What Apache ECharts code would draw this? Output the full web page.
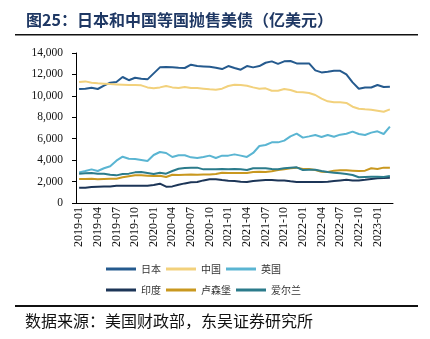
<!DOCTYPE html>
<html><head><meta charset="utf-8">
<script src="https://cdn.jsdelivr.net/npm/echarts@6/dist/echarts.min.js"></script>
<style>html,body{margin:0;padding:0;background:#fff}#c{width:430px;height:339px}</style>
</head><body><div id="c"></div>
<script>
// months 2019-01 .. 2023-03
const months = [];
for (let y = 2019; y <= 2023; y++) { for (let m = 1; m <= 12; m++) { if (y === 2023 && m > 3) break; months.push(y + '-' + String(m).padStart(2, '0')); } }
const yTicks = [0, 2000, 4000, 6000, 8000, 10000, 12000, 14000];

const japan = [10640,10670,10750,10640,10950,11230,11300,11760,11460,11690,11600,11540,12100,12660,12700,12660,12620,12600,12910,12780,12750,12710,12620,12500,12780,12600,12440,12780,12660,12780,13090,13220,12990,13220,13250,13030,13030,13030,12380,12190,12250,12340,12340,12000,11260,10670,10780,10780,11010,10820,10860];
const china = [11290,11350,11230,11170,11140,11100,11070,11040,11010,11010,10980,10790,10700,10790,10920,10790,10730,10830,10730,10730,10670,10610,10580,10670,10920,11040,11010,10950,10790,10670,10700,10480,10480,10640,10540,10360,10330,10270,10080,9740,9490,9400,9400,9340,8990,8800,8740,8710,8620,8520,8740];
const uk = [2860,2990,3140,2990,3240,3430,3950,4320,4130,4100,4010,3920,4480,4760,4670,4290,4450,4450,4260,4200,4290,4420,4200,4420,4420,4540,4420,4300,4670,5320,5410,5660,5660,5820,6220,6470,6100,6220,6350,6160,6350,6190,6380,6470,6660,6440,6350,6570,6690,6440,7120];
const india = [1430,1430,1490,1520,1550,1550,1620,1620,1620,1620,1620,1620,1680,1800,1520,1550,1710,1830,1930,1960,2110,2210,2210,2140,2080,2050,1990,1960,2050,2110,2140,2140,2110,2110,2020,1960,1960,1960,1960,1960,1990,2050,2110,2170,2110,2110,2170,2240,2300,2330,2360];
const luxembourg = [2240,2240,2270,2210,2240,2270,2270,2400,2490,2580,2580,2550,2520,2550,2430,2640,2610,2640,2670,2640,2670,2670,2700,2830,2800,2800,2800,2800,2890,2920,2890,2960,3080,3140,3240,3300,3170,3170,3080,2920,2890,3020,3050,3050,3020,2990,3020,3240,3170,3300,3300];
const ireland = [2740,2770,2800,2740,2740,2640,2580,2710,2740,2860,2890,2800,2710,2830,2740,2990,3200,3270,3300,3300,3140,3140,3140,3170,3140,3170,3140,3080,3240,3240,3240,3170,3140,3240,3300,3330,3080,3110,3110,2990,2890,2830,2770,2700,2610,2400,2430,2460,2460,2430,2520];

const names = ['日本', '中国', '英国', '印度', '卢森堡', '爱尔兰'];
const colors = ['#255a8e', '#f2d17c', '#5ab5d2', '#1c3557', '#c9981f', '#2b7b8b'];
const datas = [japan, china, uk, india, luxembourg, ireland];

const chart = echarts.init(document.getElementById('c'), null, { renderer: 'canvas' });
const serif = '"Times New Roman","Liberation Serif",serif';
const cjk = '"Noto Sans CJK SC","Noto Sans",sans-serif';

const legendCommon = {
  left: 101, itemWidth: 30, itemHeight: 3, icon: 'rect', itemGap: 5,
  textStyle: { fontFamily: cjk, fontSize: 10, color: '#333', width: 44 }
};

chart.setOption({
  animation: false,
  grid: { left: 76, right: 37, top: 53, bottom: 136 },
  graphic: [
    { type: 'text', left: 26, top: 12, style: { text: '图25：日本和中国等国抛售美债（亿美元）', font: 'bold 16px ' + cjk, fill: '#1f3864' } },
    { type: 'rect', shape: { x: 15, y: 34, width: 403, height: 1.6 }, style: { fill: '#111' } },
    { type: 'rect', shape: { x: 15, y: 305, width: 403, height: 2 }, style: { fill: '#111' } },
    { type: 'text', left: 25, top: 313, style: { text: '数据来源：美国财政部，东吴证券研究所', font: '16px ' + cjk, fill: '#111' } }
  ],
  legend: [
    Object.assign({ top: 259, data: names.slice(0, 3) }, legendCommon),
    Object.assign({ top: 280, data: names.slice(3) }, legendCommon)
  ],
  xAxis: {
    type: 'category', data: months, boundaryGap: true,
    axisLine: { lineStyle: { color: '#000', width: 1 } },
    axisTick: { interval: 2, alignWithLabel: true, length: 3, lineStyle: { color: '#000' } },
    axisLabel: { interval: 2, rotate: 90, margin: 4, fontFamily: serif, fontSize: 12, color: '#111' }
  },
  yAxis: {
    type: 'value', min: yTicks[0], max: yTicks[yTicks.length - 1], interval: 2000,
    axisLine: { show: true, lineStyle: { color: '#000', width: 1 } },
    axisTick: { show: true, length: 4, lineStyle: { color: '#000' } },
    splitLine: { show: false },
    axisLabel: { margin: 13, fontFamily: serif, fontSize: 11.5, color: '#111' }
  },
  series: names.map((n, i) => ({
    name: n, type: 'line', data: datas[i], symbol: 'none',
    lineStyle: { width: 2, color: colors[i] }, itemStyle: { color: colors[i] }
  }))
});
</script></body></html>
